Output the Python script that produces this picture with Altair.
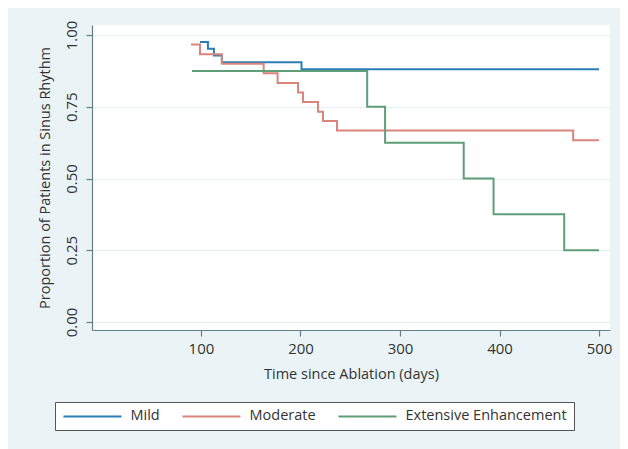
import altair as alt
import pandas as pd

# Kaplan-Meier step data
mild_t = [99, 107, 113, 121, 201, 500]
mild_s = [0.976, 0.952, 0.929, 0.905, 0.881, 0.881]

moderate_t = [90, 99, 121, 163, 177, 197.5, 202.5, 217.6, 222.6, 236.7, 474, 500]
moderate_s = [0.967, 0.933, 0.9, 0.867, 0.833, 0.8, 0.767, 0.733, 0.7, 0.667, 0.633, 0.633]

extensive_t = [91, 267, 285, 364, 394, 465, 500]
extensive_s = [0.875, 0.75, 0.625, 0.5, 0.375, 0.25, 0.25]

groups = ["Mild", "Moderate", "Extensive Enhancement"]
colors = ["#2a7db6", "#d9857c", "#5f9e79"]

x_ticks = [100, 200, 300, 400, 500]
y_ticks = [0.0, 0.25, 0.5, 0.75, 1.0]

rows = []
for g, ts, ss in zip(groups, [mild_t, moderate_t, extensive_t], [mild_s, moderate_s, extensive_s]):
    for i, (t, s) in enumerate(zip(ts, ss)):
        rows.append({"group": g, "time": t, "surv": s, "order": i})
df = pd.DataFrame(rows)

FONT = "Open Sans"
TXT = "#333333"
AX = "#667f8c"

chart = alt.Chart(df).mark_line(interpolate="step-after", strokeWidth=2).encode(
    x=alt.X("time:Q",
            scale=alt.Scale(domain=[-9.5, 511], nice=False, zero=False),
            axis=alt.Axis(values=x_ticks, title="Time since Ablation (days)", grid=False,
                          labelFontSize=15, titleFontSize=14.5, titleFontWeight="normal",
                          tickSize=6, labelPadding=5, titleX=259, titleY=44,
                          titleBaseline="middle", titleAlign="center")),
    y=alt.Y("surv:Q",
            scale=alt.Scale(domain=[-0.028, 1.035], nice=False, zero=False),
            axis=alt.Axis(values=y_ticks, format=".2f",
                          title="Proportion of Patients in Sinus Rhythm",
                          labelAngle=270, labelAlign="center", labelBaseline="bottom",
                          labelFontSize=15, titleFontSize=14.5, titleFontWeight="normal",
                          tickSize=6, labelPadding=7,
                          titleAngle=270, titleX=-47, titleY=152.5,
                          titleAlign="center", titleBaseline="middle",
                          grid=True, gridColor="#e3eef4", gridWidth=1)),
    color=alt.Color("group:N", sort=groups,
                    scale=alt.Scale(domain=groups, range=colors),
                    legend=alt.Legend(title=None, orient="none", direction="horizontal",
                                      legendX=-37, legendY=377,
                                      symbolType="M-1,0H9", symbolSize=134.6,
                                      symbolStrokeWidth=2, labelFontSize=14.5,
                                      labelOffset=54, columnPadding=18,
                                      labelLimit=400,
                                      padding=7, strokeColor="#555555",
                                      fillColor="white", labelColor=TXT)),
    order="order:Q",
).properties(
    width=518, height=305,
    autosize=alt.AutoSizeParams(type="none"),
    padding={"left": 84, "top": 17, "right": 10, "bottom": 119},
    background="#eaf3f5",
).configure_view(
    fill="white", stroke=None
).configure_axis(
    labelFont=FONT, titleFont=FONT, labelColor=TXT, titleColor=TXT,
    domainColor=AX, tickColor=AX, domainWidth=1.2, tickWidth=1.2
).configure_legend(
    labelFont=FONT
)

chart.save("out.html", embed_options={"renderer": "svg", "actions": False})
